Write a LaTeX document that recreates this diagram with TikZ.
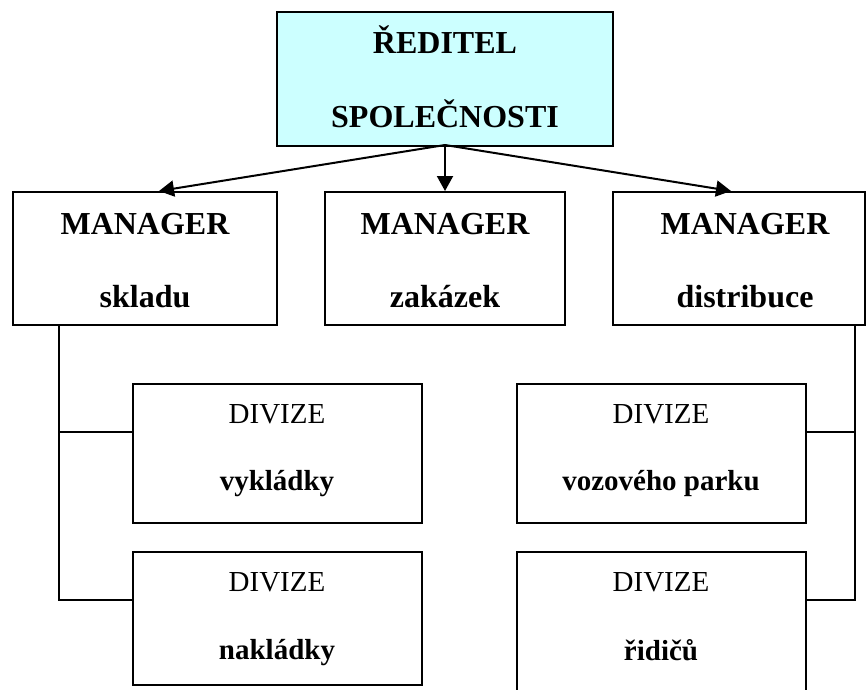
\documentclass[tikz,border=0pt]{standalone}
\usepackage{fontspec}
\setmainfont{Liberation Serif}
\usetikzlibrary{arrows.meta}
\definecolor{topfill}{HTML}{CCFFFF}
\newcommand\fmgr{\fontsize{32}{38}\selectfont\bfseries}
\newcommand\fdivr{\fontsize{29}{35}\selectfont}
\newcommand\fdivb{\fontsize{29}{35}\selectfont\bfseries}
\begin{document}
\begin{tikzpicture}[x=1pt,y=-1pt,
  box/.style={draw, line width=2pt, inner sep=0pt, rectangle},
  lbl/.style={anchor=base, inner sep=0pt},
  conn/.style={line width=2pt},
  arr/.style={line width=2pt, -{Triangle[length=15pt,width=16pt]}}]
\useasboundingbox (0,0) rectangle (866,689);
\clip (0,0) rectangle (866,689);
% boxes
\node[box, fill=topfill, minimum width=336pt, minimum height=134pt] (top) at (445,79) {};
\node[box, minimum width=264pt, minimum height=133pt] (m1) at (145,258.5) {};
\node[box, minimum width=240pt, minimum height=133pt] (m2) at (445,258.5) {};
\node[box, minimum width=252pt, minimum height=133pt] (m3) at (739,258.5) {};
\node[box, minimum width=289pt, minimum height=139pt] (d1) at (277.5,453.5) {};
\node[box, minimum width=289pt, minimum height=133pt] (d2) at (277.5,618.5) {};
\node[box, minimum width=289pt, minimum height=139pt] (d3) at (661.5,453.5) {};
\node[box, minimum width=289pt, minimum height=148pt] (d4) at (661.5,626) {};
% texts
\node[lbl, font=\fmgr] (t1) at (445,53) {ŘEDITEL};
\node[lbl, font=\fmgr] (t2) at (445,127) {SPOLEČNOSTI};
\node[lbl, font=\fmgr] (m1a) at (145,234) {MANAGER};
\node[lbl, font=\fmgr] (m1b) at (145,307) {skladu};
\node[lbl, font=\fmgr] (m2a) at (445,234) {MANAGER};
\node[lbl, font=\fmgr] (m2b) at (445,307) {zakázek};
\node[lbl, font=\fmgr] (m3a) at (745,234) {MANAGER};
\node[lbl, font=\fmgr] (m3b) at (745,307) {distribuce};
\node[lbl, font=\fdivr] (d1a) at (277,423) {DIVIZE};
\node[lbl, font=\fdivb] (d1b) at (277,490) {vykládky};
\node[lbl, font=\fdivr] (d2a) at (277,591) {DIVIZE};
\node[lbl, font=\fdivb] (d2b) at (277,659) {nakládky};
\node[lbl, font=\fdivr] (d3a) at (661,423) {DIVIZE};
\node[lbl, font=\fdivb] (d3b) at (661,490) {vozového parku};
\node[lbl, font=\fdivr] (d4a) at (661,591) {DIVIZE};
\node[lbl, font=\fdivb] (d4b) at (661,660) {řidičů};
% arrows
\draw[arr] ([yshift=2pt]top.south) -- ([xshift=147pt]m1.north west);
\draw[arr] (top.south) -- (m2.north);
\draw[arr] ([yshift=2pt]top.south) -- ([xshift=119pt]m3.north west);
% tree lines
\draw[conn] ([xshift=47pt]m1.south west) |- ([yshift=-49pt]d1.north west);
\draw[conn] ([xshift=47pt]m1.south west) |- ([yshift=-49pt]d2.north west);
\draw[conn] ([xshift=-11pt]m3.south east) |- ([yshift=-49pt]d3.north east);
\draw[conn] ([xshift=-11pt]m3.south east) |- ([yshift=-49pt]d4.north east);
\end{tikzpicture}
\end{document}
